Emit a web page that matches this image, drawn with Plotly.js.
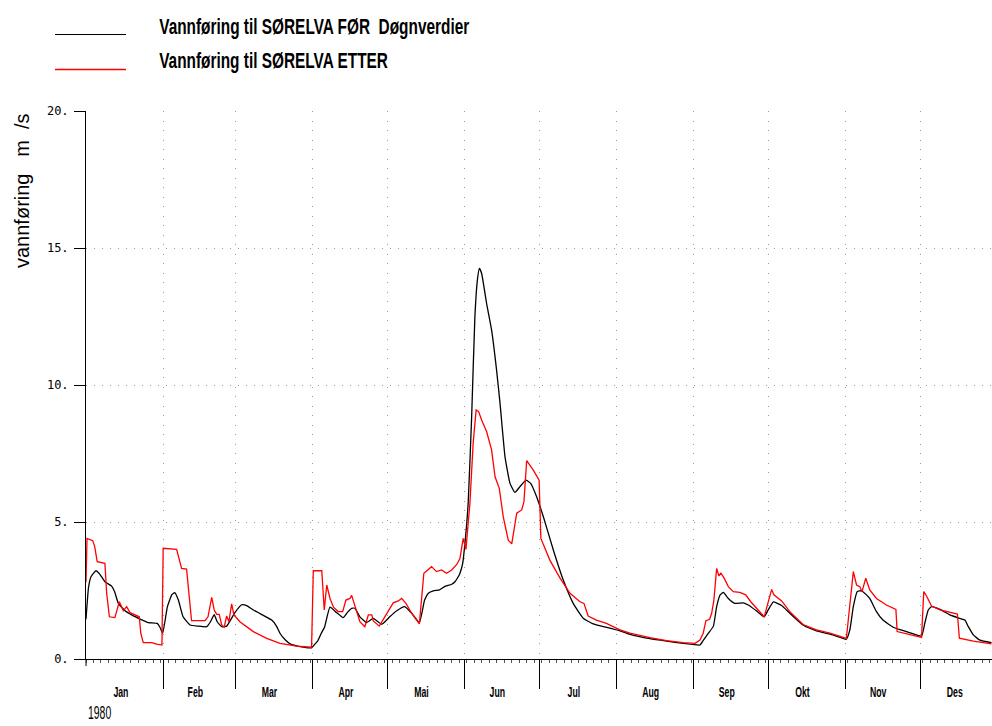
<!DOCTYPE html>
<html>
<head>
<meta charset="utf-8">
<script src="https://cdn.plot.ly/plotly-3.0.1.min.js"></script>
<style>
html,body{margin:0;padding:0;background:#fff;overflow:hidden;}
#chart{width:992px;height:726px;}
</style>
</head>
<body>
<div id="chart"></div>
<script>
// ---- data (day of year 1980, value m3/s) ----
const seriesNames = ['Vannføring til SØRELVA FØR  Døgnverdier', 'Vannføring til SØRELVA ETTER'];
const monthNames = ['Jan','Feb','Mar','Apr','Mai','Jun','Jul','Aug','Sep','Okt','Nov','Des'];
const monthDays = [31,29,31,30,31,30,31,31,30,31,30,31];
const yearLabel = '1980';
const yTickVals = [0,5,10,15,20];
const yTickText = ['0.','5.','10.','15.','20.'];
const yTitle = 'vannføring   m  /s';

const forDays = [0,1,2,4,5.5,7.6,10.3,11.5,13,15.7,18.5,21.7,25,28.6,29.7,30.8,32.7,34.5,35.6,37.1,39,41.8,45,48.5,50,51.5,52.7,54.5,56.5,59.8,62.5,64.5,67.2,71,74.6,76.5,77.9,80,82,86,90.6,92,93,94.5,95.8,98,100.7,103.3,105,106.7,108,110,112.7,115.4,118.8,122,124.8,128,130.8,133.9,136,137.5,139.5,142,144,146.9,148.2,149.5,150.2,151.3,152.2,153.5,154.9,156.2,157.2,158,158.9,160.9,162.9,164.9,166.3,168.3,170.3,172.3,174.3,176.7,178.6,181,183.7,187.7,191.7,195.7,199.7,203.7,209,214.5,218.5,226.5,233.2,239.9,246.6,248,250,252,253.3,254.7,256,258,260.6,264,266,269.4,272.4,274,276,279.4,282.7,288,293.4,300,305.4,306.8,308.2,309.8,311.5,313.5,314.8,317.5,320.1,324.2,329.5,335.6,336.9,338.3,339.6,343,347,351,353,354.4,356.4,359,363.7];
const forVals = [1.45,2.6,3.0,3.22,3.1,2.82,2.66,2.45,2.03,1.76,1.6,1.46,1.33,1.30,1.16,0.94,1.91,2.35,2.42,2.15,1.54,1.24,1.2,1.18,1.36,1.62,1.36,1.18,1.20,1.69,1.98,1.95,1.79,1.6,1.42,1.2,0.94,0.7,0.55,0.45,0.41,0.55,0.65,0.94,1.16,1.89,1.69,1.51,1.7,1.85,1.85,1.54,1.33,1.48,1.27,1.54,1.76,1.91,1.67,1.33,2.15,2.40,2.49,2.52,2.64,2.73,2.82,3.00,3.13,3.49,4.22,5.68,8.84,12.49,13.83,14.26,14.08,12.98,12.01,10.55,9.33,7.38,6.41,6.08,6.29,6.53,6.41,5.92,5.19,3.98,2.88,2.03,1.49,1.28,1.16,1.03,0.90,0.74,0.65,0.57,0.51,0.69,0.94,1.20,1.91,2.34,2.43,2.21,2.03,2.05,1.97,1.75,1.54,1.79,2.08,1.95,1.67,1.24,1.03,0.88,0.72,1.06,1.91,2.46,2.49,2.34,2.21,1.73,1.42,1.16,1.00,0.84,1.30,1.79,1.91,1.81,1.61,1.48,1.42,1.18,0.88,0.69,0.60];

const etterDays = [0,0.4,2.7,3.5,4.5,7.6,8.3,9.4,11.6,13.4,15,16.3,17.7,21.4,22,23,26.4,28.4,30.5,31,36.4,38.4,40.4,42.4,47.8,49,50.5,51.5,52.5,53.5,54.5,55.5,56.5,57.4,58.5,59.4,61.8,67.2,72.6,77.9,84.6,90.6,91.3,94.7,95.7,96.7,98,99.4,101.3,103.1,104.4,106,106.7,108,110,112,113.4,114.8,115.4,117.8,120.1,121.4,123.4,125.4,126.8,128.5,130.8,133.9,135.7,138.8,140.8,142.8,144.8,146.9,148.9,150.2,151.5,152.6,154.2,155.5,156.7,157.7,158.9,160.9,162.9,164.3,166,167.6,169.6,171,173,175,175.9,177,179.6,182,182.7,186.3,190.4,194.4,198.4,200,201.7,205,209,214.5,218.5,226.5,233.2,239.9,244.6,246.6,247.9,249,250.5,251.3,252.2,253.3,254.2,255,256.2,258,260,262.6,265,267,272.4,275.4,276.3,279.4,282.7,288,293.4,298.8,305.4,308.2,309.5,310.8,311.7,313.2,314.8,317.5,321.5,325.3,325.8,335.6,336.5,337.6,339.6,343,347,350,350.8,356.4,363.7];
const etterVals = [2.8,4.40,4.32,4.10,3.55,3.49,2.40,1.54,1.51,2.09,1.76,1.91,1.69,1.54,0.94,0.60,0.60,0.54,0.51,4.04,4.00,3.31,3.28,1.40,1.40,1.54,2.25,1.79,1.63,1.63,1.24,1.16,1.57,1.36,2.01,1.61,1.36,1.00,0.75,0.57,0.47,0.43,3.22,3.22,1.79,2.70,2.21,1.89,1.73,1.73,2.15,2.21,2.32,1.91,1.36,1.18,1.61,1.61,1.39,1.20,1.54,1.76,2.05,2.12,2.21,2.03,1.67,1.28,3.13,3.37,3.19,3.25,3.13,3.25,3.45,3.67,4.40,4.00,5.68,7.87,9.09,9.03,8.72,8.30,7.63,6.65,6.23,5.19,4.34,4.20,5.32,5.44,5.74,7.24,6.90,6.53,4.40,3.61,2.95,2.40,2.09,2.03,1.57,1.42,1.30,1.06,0.94,0.78,0.67,0.60,0.57,0.69,0.94,1.40,1.45,1.67,2.15,3.31,3.03,3.13,2.97,2.64,2.46,2.43,2.34,2.09,1.54,2.54,2.34,2.12,1.73,1.26,1.06,0.94,0.75,3.19,2.70,2.64,2.46,2.95,2.52,2.21,1.97,1.81,1.00,0.79,2.46,2.30,1.93,1.79,1.69,1.64,0.76,0.65,0.55];

// ---- layout helpers ----
const L = 86, T = 111, PW = 906, PH = 548;
const px2x = p => (p - L) / PW;
const py2y = p => (T + PH - p) / PH;
const sans = "'Liberation Sans', Arial, sans-serif";

const monthStarts = [];
let acc = 0;
monthDays.forEach(d => { monthStarts.push(acc); acc += d; });
const boundaries = monthStarts.slice(1).concat([acc]);

const traces = [
  {x: forDays, y: forVals, type: 'scatter', mode: 'lines', name: seriesNames[0],
   line: {color: '#000000', width: 1.3, shape: 'spline', smoothing: 0.4}},
  {x: etterDays, y: etterVals, type: 'scatter', mode: 'lines', name: seriesNames[1],
   line: {color: '#ff0000', width: 1.3}}
];

// condensed look: horizontal scale per annotation index
const squeeze = {};
const annotations = [];
seriesNames.forEach((n, i) => {
  squeeze[annotations.length] = {k: 0.70, origin: 'left center'};
  annotations.push({text: '<b>' + n + '</b>', xref: 'paper', yref: 'paper',
    x: px2x(157), y: py2y(26 + 35 * i), xanchor: 'left', yanchor: 'middle', showarrow: false,
    font: {family: sans, size: 22, color: '#000'}});
});
monthNames.forEach((m, i) => {
  squeeze[annotations.length] = {k: 0.58, origin: 'center center'};
  annotations.push({text: '<b>' + m + '</b>', xref: 'x', yref: 'paper',
    x: monthStarts[i] + monthDays[i] / 2, y: 0, yshift: -32, xshift: -4,
    xanchor: 'center', yanchor: 'middle', showarrow: false,
    font: {family: sans, size: 15, color: '#000'}});
});
squeeze[annotations.length] = {k: 0.55, origin: 'left center'};
annotations.push({text: yearLabel, xref: 'paper', yref: 'paper', x: 0, y: 0, yshift: -66,
  xanchor: 'left', yanchor: 'bottom', showarrow: false,
  font: {family: sans, size: 19, color: '#000'}});
annotations.push({text: yTitle, xref: 'paper', yref: 'paper', x: px2x(22), y: py2y(191),
  xanchor: 'center', yanchor: 'middle', textangle: -90, showarrow: false,
  font: {family: sans, size: 20, color: '#000'}});

const shapes = [
  {type: 'line', xref: 'paper', yref: 'paper', x0: px2x(55), x1: px2x(126), y0: py2y(34.5), y1: py2y(34.5),
   line: {color: '#000000', width: 1.2}},
  {type: 'line', xref: 'paper', yref: 'paper', x0: px2x(55), x1: px2x(126), y0: py2y(69.5), y1: py2y(69.5),
   line: {color: '#ff0000', width: 1.5}},
  {type: 'line', xref: 'paper', yref: 'paper', x0: 0, x1: 0, y0: 0, y1: -7 / PH,
   line: {color: '#000', width: 1}}
];

const layout = {
  width: 992, height: 726,
  margin: {l: L, r: 992 - L - PW, t: T, b: 726 - T - PH, pad: 0},
  paper_bgcolor: '#fff', plot_bgcolor: '#fff',
  showlegend: false,
  xaxis: {
    range: [0, 363.9], tickmode: 'array', tickvals: boundaries, showticklabels: false,
    ticks: 'outside', ticklen: 29, tickwidth: 1, tickcolor: '#000',
    showline: true, linecolor: '#000', linewidth: 1,
    showgrid: true, gridcolor: '#999', gridwidth: 1, griddash: '1px,8.5px',
    zeroline: false,
    minor: {dtick: 3, tick0: 0, ticks: 'outside', ticklen: 3, tickcolor: '#555', showgrid: false}
  },
  yaxis: {
    range: [0, 20], tickmode: 'array', tickvals: yTickVals, ticktext: yTickText,
    ticks: 'outside', ticklen: 11, tickwidth: 1, tickcolor: '#000',
    showline: true, linecolor: '#000', linewidth: 1,
    showgrid: true, gridcolor: '#999', gridwidth: 1, griddash: '1px,7px',
    zeroline: false, ticklabelstandoff: 3,
    tickfont: {family: "'DejaVu Sans Mono', monospace", size: 12, color: '#000'}
  },
  annotations: annotations,
  shapes: shapes
};

Plotly.newPlot('chart', traces, layout, {displayModeBar: false, staticPlot: true}).then(gd => {
  Object.keys(squeeze).forEach(i => {
    const el = gd.querySelector('g.annotation[data-index="' + i + '"] text.annotation-text');
    if (!el) return;
    el.style.transformBox = 'fill-box';
    el.style.transformOrigin = squeeze[i].origin;
    el.style.transform = 'scaleX(' + squeeze[i].k + ')';
  });
});
</script>
</body>
</html>
